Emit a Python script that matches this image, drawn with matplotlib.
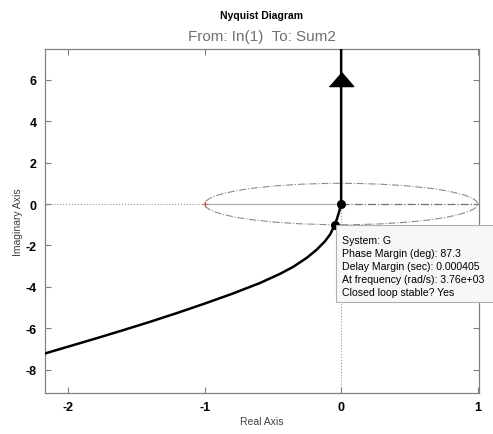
import numpy as np
import matplotlib
matplotlib.use("Agg")
import matplotlib.pyplot as plt
from matplotlib.patches import Ellipse, FancyBboxPatch

plt.rcParams['font.family'] = ['Liberation Sans', 'DejaVu Sans']
plt.rcParams['axes.unicode_minus'] = False

# Nyquist curve (real, imaginary)
re_vals = [-2.17, -2.0, -1.8, -1.6, -1.4, -1.2, -1.0, -0.8, -0.6, -0.45, -0.35,
           -0.25, -0.18, -0.12, -0.08, -0.047, -0.03, -0.017, -0.007, 0.0, 0.0]
im_vals = [-7.22, -6.89, -6.50, -6.10, -5.69, -5.26, -4.81, -4.34, -3.83, -3.38, -3.03,
           -2.59, -2.21, -1.81, -1.46, -0.999, -0.70, -0.42, -0.18, 0.0, 7.6]

# marked points: phase margin crossing and origin
pm_point = (-0.047, -0.999)
origin_point = (0.0, 0.0)
arrow_y = 6.05
critical_point = (-1, 0)

x_ticks = [-2, -1, 0, 1]
y_ticks = [-8, -6, -4, -2, 0, 2, 4, 6]

tip_lines = ["System: G",
             "Phase Margin (deg): 87.3",
             "Delay Margin (sec): 0.000405",
             "At frequency (rad/s): 3.76e+03",
             "Closed loop stable? Yes"]

fig = plt.figure(figsize=(4.93, 4.35), dpi=100)
ax = fig.add_axes([45/493, 1-394/435, 434/493, 344/435])
ax.set_xlim(-2.17, 1.01)
ax.set_ylim(-9.13, 7.49)

# grid-ish reference lines
ax.axvline(0, color='#9a9a9a', lw=0.8, ls=':', zorder=1)
ax.plot([-2.17, -1], [0, 0], color='#9a9a9a', lw=0.8, ls=':', zorder=1)
ax.plot([-1, 0], [0, 0], color='#b0b0b0', lw=0.9, zorder=1)
ax.plot([0, 1], [0, 0], color='#707070', lw=0.9, ls='-.', zorder=1)
ax.add_patch(Ellipse((0, 0), 2, 2, fill=False, ec='#8a8a8a', lw=0.8, ls='-.', zorder=1))
ax.plot(*critical_point, marker='+', color='#e05050', ms=5, mew=0.8, zorder=2)

# the Nyquist curve
ax.plot(re_vals, im_vals, color='black', lw=1.8, zorder=3, solid_joinstyle='round')
ax.plot(0, arrow_y, marker=[(-1, -0.58), (1, -0.58), (0, 0.58)], color='black', ms=17.5, zorder=4)
ax.plot(*pm_point, 'o', color='black', ms=5.5, zorder=5)
ax.plot(*origin_point, 'o', color='black', ms=5.5, zorder=5)

ax.set_xticks(x_ticks)
ax.set_yticks(y_ticks)
ax.tick_params(direction='in', length=4, width=0.8, color='#808080',
               top=True, right=True, labelsize=9, pad=6)
for lab in ax.get_xticklabels() + ax.get_yticklabels():
    lab.set_fontweight('bold')
for sp in ax.spines.values():
    sp.set_color('#808080')
    sp.set_linewidth(0.9)

ax.set_xlabel("Real Axis", fontsize=7.5, color='#404040', labelpad=2)
ax.set_ylabel("Imaginary Axis", fontsize=7.5, color='#404040', labelpad=2)

fig.text(262/493, 1-16/435, "Nyquist Diagram", ha='center', va='center',
         fontsize=7.5, fontweight='bold')
fig.text(262/493, 1-37/435, "From: In(1)  To: Sum2", ha='center', va='center',
         fontsize=11, color='#707070')

# data tip box
box = FancyBboxPatch((336/493, 1-303/435), 200/493, 77/435,
                     boxstyle='square,pad=0', transform=fig.transFigure,
                     fc='#f7f7f7', ec='#b0b0b0', lw=0.8, zorder=10)
fig.patches.append(box)
for i, line in enumerate(tip_lines):
    fig.text(342/493, 1-(241 + i*13.1)/435, line, ha='left', va='center',
             fontsize=7.6, color='black', zorder=11)

fig.savefig("out.png", dpi=100)
